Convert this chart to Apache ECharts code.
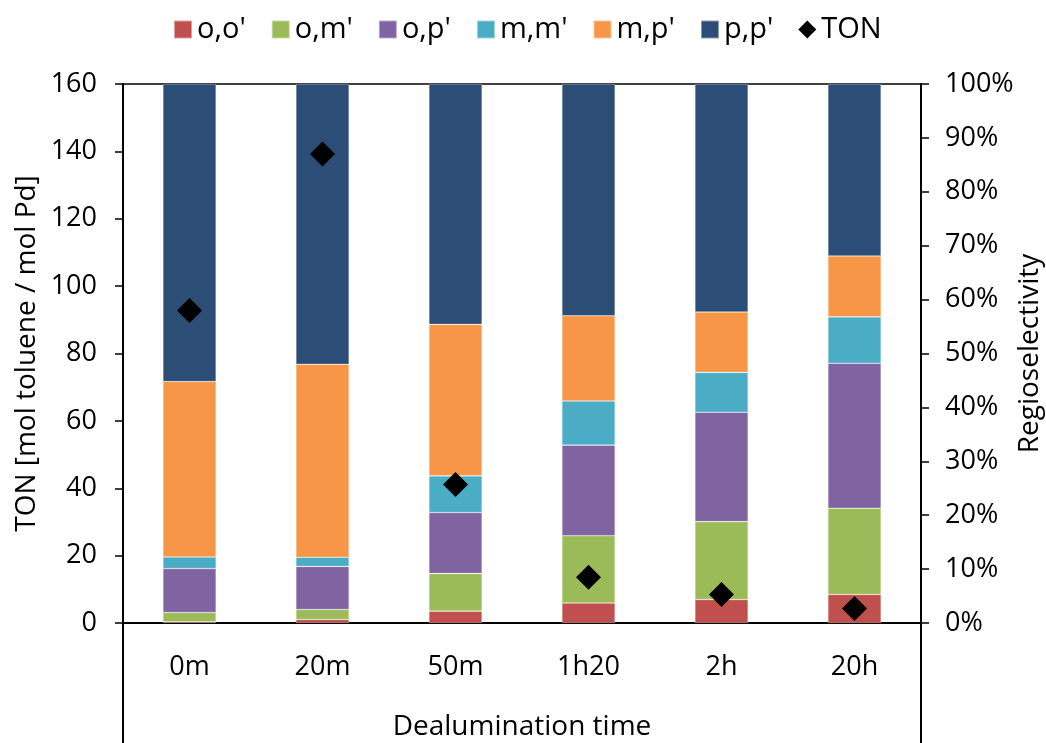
<!DOCTYPE html>
<html>
<head>
<meta charset="utf-8">
<script src="https://cdn.jsdelivr.net/npm/echarts@6/dist/echarts.min.js"></script>
<style>
html,body{margin:0;padding:0;background:#fff;}
#c{width:1046px;height:743px;}
</style>
</head>
<body>
<div id="c"></div>
<script>
const categories = ['0m', '20m', '50m', '1h20', '2h', '20h'];
// Regioselectivity shares (%), stacked
const oo = [0.2, 0.65, 2.2, 3.7, 4.35, 5.3];
const om = [1.75, 1.85, 7.0, 12.5, 14.45, 16.0];
const op = [8.15, 8.0, 11.3, 16.8, 20.3, 26.9];
const mm = [2.15, 1.7, 6.8, 8.2, 7.4, 8.6];
const mp = [32.55, 35.8, 28.1, 15.8, 11.2, 11.3];
const pp = [55.2, 52.0, 44.6, 43.0, 42.3, 31.9];
// TON (mol toluene / mol Pd)
const ton = [92.8, 139.2, 41.1, 13.6, 8.45, 4.3];
const leftTicks = [0, 160, 20];
const rightTicks = [0, 100, 10];

const FONT = 'Open Sans';
const FS = 27;
const FSN = 28;
const colors = ['#C0504D', '#9BBB59', '#8064A2', '#4BACC6', '#F79646', '#2C4D75'];
const names = ["o,o'", "o,m'", "o,p'", "m,m'", "m,p'", "p,p'"];
const stacks = [oo, om, op, mm, mp, pp];

const chart = echarts.init(document.getElementById('c'), null, {renderer: 'canvas'});

const barSeries = stacks.map((d, i) => ({
  name: names[i],
  type: 'bar',
  stack: 'sel',
  yAxisIndex: 1,
  barWidth: '40%',
  data: d,
  itemStyle: {color: colors[i], borderColor: 'rgba(255,255,255,0.45)', borderWidth: 0.6},
  emphasis: {disabled: true},
  z: 2
}));

const option = {
  animation: false,
  textStyle: {fontFamily: FONT, color: '#000'},
  legend: {
    left: 168,
    top: 10,
    itemWidth: 18,
    itemHeight: 18,
    itemGap: 25,
    textStyle: {fontFamily: FONT, fontSize: 29, color: '#000'},
    data: names.map((n, i) => ({name: n, icon: 'rect'})).concat([{name: 'TON', icon: 'diamond', itemStyle: {opacity: 1}}])
  },
  grid: {
    left: 123, right: 125, top: 84, bottom: 120,
    outerBoundsMode: 'none',
    containLabel: false,
    show: true, borderColor: '#000', borderWidth: 1.5
  },
  xAxis: {
    type: 'category',
    data: categories,
    axisLine: {lineStyle: {color: '#000', width: 2}},
    axisTick: {show: false},
    axisLabel: {fontFamily: FONT, fontSize: FS, color: '#000', margin: 31},
    name: 'Dealumination time',
    nameLocation: 'middle',
    nameGap: 90,
    nameMoveOverlap: false,
    nameTextStyle: {fontFamily: FONT, fontSize: FSN, color: '#000'}
  },
  yAxis: [
    {
      type: 'value',
      min: leftTicks[0], max: leftTicks[1], interval: leftTicks[2],
      position: 'left',
      axisLine: {show: true, lineStyle: {color: '#000', width: 2}},
      axisTick: {show: true, length: 8, lineStyle: {color: '#000', width: 1.5}},
      splitLine: {show: false},
      axisLabel: {fontFamily: FONT, fontSize: FS, color: '#000', margin: 26},
      name: 'TON [mol toluene / mol Pd]',
      nameLocation: 'middle',
      nameGap: 82,
      nameRotate: 90,
      nameMoveOverlap: false,
      nameTextStyle: {fontFamily: FONT, fontSize: FSN, color: '#000'}
    },
    {
      type: 'value',
      min: rightTicks[0], max: rightTicks[1], interval: rightTicks[2],
      position: 'right',
      axisLine: {show: true, lineStyle: {color: '#000', width: 2}},
      axisTick: {show: true, length: 8, lineStyle: {color: '#000', width: 1.5}},
      splitLine: {show: false},
      axisLabel: {fontFamily: FONT, fontSize: FS, color: '#000', margin: 24, formatter: '{value}%'},
      name: 'Regioselectivity',
      nameLocation: 'middle',
      nameGap: 95,
      nameRotate: 90,
      nameMoveOverlap: false,
      nameTextStyle: {fontFamily: FONT, fontSize: FSN, color: '#000'}
    }
  ],
  series: barSeries.concat([{
    name: 'TON',
    type: 'scatter',
    yAxisIndex: 0,
    symbol: 'diamond',
    symbolSize: 25,
    data: ton,
    itemStyle: {color: '#000', opacity: 1},
    emphasis: {disabled: true},
    z: 5
  }])
};
chart.setOption(option);

// extend vertical axis lines below the plot area (decoration)
const gridRect = chart.getModel().getComponent('grid').coordinateSystem.getRect();
const yb = gridRect.y + gridRect.height;
chart.setOption({
  graphic: [
    {type: 'line', shape: {x1: gridRect.x, y1: yb, x2: gridRect.x, y2: 743}, style: {stroke: '#000', lineWidth: 2}},
    {type: 'line', shape: {x1: gridRect.x + gridRect.width, y1: yb, x2: gridRect.x + gridRect.width, y2: 743}, style: {stroke: '#000', lineWidth: 2}}
  ]
});
</script>
</body>
</html>
